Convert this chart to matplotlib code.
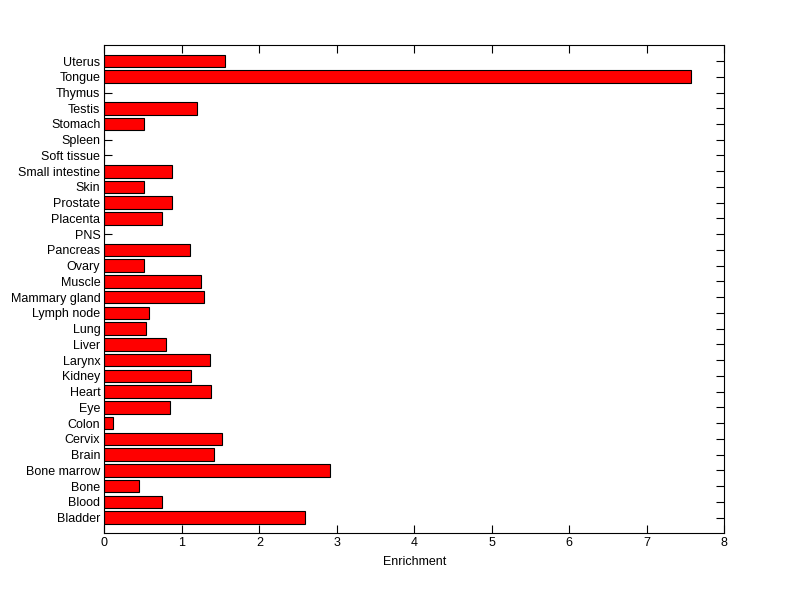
import matplotlib
matplotlib.use('Agg')
import matplotlib.pyplot as plt

# categories from bottom to top
tissues = ['Bladder', 'Blood', 'Bone', 'Bone marrow', 'Brain', 'Cervix', 'Colon',
           'Eye', 'Heart', 'Kidney', 'Larynx', 'Liver', 'Lung', 'Lymph node',
           'Mammary gland', 'Muscle', 'Ovary', 'Pancreas', 'PNS', 'Placenta',
           'Prostate', 'Skin', 'Small intestine', 'Soft tissue', 'Spleen',
           'Stomach', 'Testis', 'Thymus', 'Tongue', 'Uterus']
enrichment = [2.585, 0.748, 0.45, 2.913, 1.408, 1.516, 0.106,
              0.84, 1.369, 1.123, 1.356, 0.80, 0.533, 0.58,
              1.29, 1.24, 0.515, 1.10, 0.0, 0.74,
              0.877, 0.515, 0.877, 0.0, 0.0,
              0.515, 1.19, 0.0, 7.565, 1.55]
x_ticks = [0, 1, 2, 3, 4, 5, 6, 7, 8]

plt.rcParams['font.family'] = ['Liberation Sans', 'DejaVu Sans']

fig = plt.figure(figsize=(8, 5.99), dpi=100)
ax = fig.add_axes([0.1306, 0.1097, 0.7747, 0.8147])

pos = list(range(1, len(tissues) + 1))
ax.barh(pos, enrichment, height=0.8, color='#ff0000', edgecolor='black', linewidth=0.8)
ax.set_axisbelow(True)

ax.set_ylim(0, len(tissues) + 1)
ax.set_xlim(0, 8)
ax.set_yticks(pos)
ax.set_yticklabels(tissues)
ax.set_xticks(x_ticks)
ax.set_xlabel('Enrichment', fontsize=9, labelpad=5)

ax.tick_params(direction='in', length=6, width=0.8, labelsize=9,
               top=True, right=True, pad=3)
for s in ax.spines.values():
    s.set_linewidth(0.8)

fig.savefig('out.png', dpi=100)
